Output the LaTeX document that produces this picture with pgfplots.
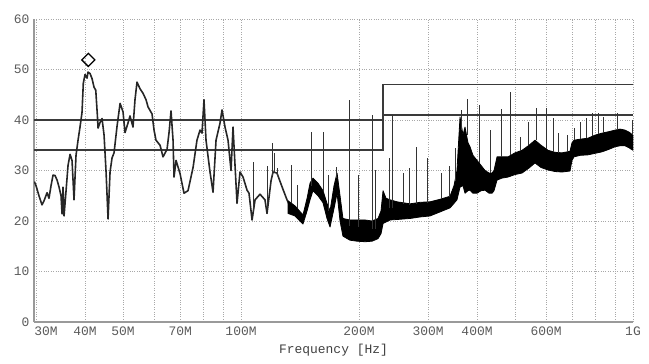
\documentclass[border=0pt]{standalone}
\usepackage{fontspec}
\setmainfont{Liberation Mono}
\usepackage{pgfplots}
\pgfplotsset{compat=1.18}
\definecolor{tickgray}{HTML}{5A5A5A}
\definecolor{axgray}{HTML}{9A9A9A}
\definecolor{gridgray}{HTML}{A8A8A8}
\definecolor{limgray}{HTML}{3A3A3A}
\begin{document}
\begin{tikzpicture}
\useasboundingbox (-34bp,-42bp) rectangle (615bp,322bp);
\begin{axis}[
  at={(0,0)}, anchor=south west,
  scale only axis, width=599bp, height=303bp,
  xmode=log, xmin=29.64, xmax=1000, ymin=0, ymax=60,
  axis x line*=bottom, axis y line*=left,
  axis line style={draw=axgray, line width=1.2pt},
  major tick length=0pt, minor tick length=0pt,
  xtick={30,40,50,60,70,80,90,100,200,300,400,500,600,700,800,900,1000},
  xticklabels={,40M,50M,,70M,,,100M,200M,300M,400M,,600M,,,,1G},
  extra x ticks={30}, extra x tick labels={30M},
  extra x tick style={grid=none, xticklabel style={xshift=10bp}},
  ytick={0,10,20,30,40,50,60},
  /pgf/number format/assume math mode=true,
  tick label style={font=\fontsize{13}{15}\selectfont, text=tickgray},
  yticklabel style={xshift=-1bp},
  xticklabel style={yshift=-1bp},
  grid=major,
  major grid style={draw=gridgray, line width=0.6pt, dash pattern=on 0.8pt off 1.6pt},
  xlabel={Frequency [Hz]},
  xlabel style={font=\fontsize{13}{15}\selectfont, text=black!75, at={(axis description cs:0.5,0)}, anchor=center, yshift=-28bp},
  clip=true,
]
% limit lines
\addplot[limgray, line width=1.7pt] coordinates {(29.64,40) (230.3,40) (230.3,47) (1000,47)};
\addplot[limgray, line width=1.7pt] coordinates {(29.64,34) (230.3,34) (230.3,41) (1000,41)};
% left trace
\addplot[black!85, line width=1.6pt, line join=round] coordinates {
(29.7,27.8)(29.99,27)(30.52,25)(31.07,23.2)(31.44,24)(32.0,25.6)(32.37,24.5)(32.76,27)(33.15,29.1)(33.54,29)(33.94,28.1)(34.34,26.7)(34.74,25)(34.95,21.4)(35.15,26.7)(35.36,21)(35.78,26)(36.2,31)(36.63,33.2)(37.06,32)(37.5,24.2)(37.94,33)(38.39,36)(38.84,38.6)(39.3,41.5)(39.6,47.3)(40.0,49)(40.47,48.3)(40.71,49.5)(41.19,49.2)(41.68,48.2)(42.17,46.5)(42.6,45.9)(43.0,41)(43.18,38.4)(43.69,39.5)(44.2,40.3)(44.73,37)(45.26,29.7)(45.79,20.4)(46.33,29.7)(46.88,32.5)(47.43,33.5)(48.28,38.8)(49.14,43.3)(50.0,41.6)(50.59,37.5)(51.48,39.4)(52.09,40.8)(53.02,38.6)(53.64,44)(54.28,47.5)(55.24,46.2)(56.23,45.3)(57.24,44)(57.91,42.6)(59.29,41.2)(59.99,38)(60.69,36)(62.15,35)(63.25,32.7)(64.75,34.2)(65.52,37.5)(66.29,41.8)(67.08,36)(67.47,28.7)(68.27,32)(69.89,29.4)(71.54,25.5)(73.25,26)(75.45,30.6)(77.21,36)(78.6,38)(79.52,37.4)(80.45,44)(81.41,36)(83.35,29.7)(84.84,25.7)(86.35,36)(88.4,39.4)(89.44,42)(91.03,38.6)(92.65,36)(94.3,30)(95.41,38.6)(96.54,31)(97.68,23.5)(99.41,29.7)(101.2,28.7)(103.6,26.1)(104.8,25.5)(106.7,20.2)(108.6,24.2)(111.8,25.3)(115.1,24.2)(116.5,21.5)(119.3,28)(120.7,29.7)(123.5,29.5)(127.2,26.8)(131.0,24.2)(133.4,22.9)
};
% noise band: upper envelope forward, lower envelope backward
\addplot[fill=black, draw=black, line width=0.8pt, line join=round] coordinates {
(131.8,24)(137.3,23)(143.9,21.2)(147.4,24.5)(150.0,27.5)(152.6,28.5)(157.2,27.5)(161.9,26)(165.7,23.5)(168.7,22)(172.7,27)(175.8,29.5)(178.9,25)(182.0,20.5)(189.7,20.2)(197.7,20.2)(207.2,20.2)(215.9,20)(223.6,20.5)(227.6,22)(230.3,26)(234.4,24.5)(240.0,24.2)(250.0,23.8)(269.9,23.4)(286.2,23.7)(303.5,23.8)(321.9,24.3)(341.4,24.9)(349.4,27)(355.6,30)(362.0,40.6)(368.4,37)(372.8,38.6)(379.4,35.5)(383.9,34.7)(390.7,33)(400.0,32)(409.6,31)(419.3,30)(429.3,29.5)(436.9,29.5)(442.0,30)(449.9,32.7)(463.3,32.7)(479.9,32.7)(500.0,33.5)(521.1,34)(543.0,35)(562.3,36)(582.5,35)(607.1,34)(632.4,33.6)(659.1,33.5)(690.7,33.8)(698.9,35.5)(707.1,36)(732.5,36.2)(767.7,36.4)(800.0,37)(833.6,37.4)(868.6,37.7)(899.8,38)(926.5,38.2)(954.1,38)(976.8,37.6)(1000,37)
(1000,34)(976.8,34.5)(954.1,34.9)(926.5,34.9)(899.8,34.7)(868.6,34.2)(833.6,33.7)(800.0,33.4)(767.7,33.1)(732.5,33)(707.1,32.7)(698.9,32)(690.7,29.9)(659.1,29.7)(632.4,29.8)(607.1,30.1)(582.5,30.6)(562.3,31.5)(543.0,30.5)(521.1,29.5)(500.0,29.2)(479.9,28.7)(463.3,28.5)(449.9,28.1)(442.0,26)(436.9,25.5)(429.3,25.5)(419.3,26.1)(409.6,26)(400.0,25.5)(390.7,25.5)(383.9,26.1)(379.4,26)(372.8,25.5)(368.4,27)(362.0,26.7)(355.6,24.2)(349.4,23.5)(341.4,22.6)(321.9,21.8)(303.5,21)(286.2,20.8)(269.9,20.5)(250.0,20.3)(240.0,20.2)(234.4,19.8)(230.3,19.5)(227.6,17.5)(223.6,16.5)(215.9,16)(207.2,15.9)(197.7,16)(189.7,16.2)(182.0,17)(178.9,20)(175.8,25.5)(172.7,22.5)(168.7,18.8)(165.7,20.5)(161.9,23.6)(157.2,25)(152.6,26)(150.0,24.2)(147.4,22)(143.9,19.4)(137.3,21)(131.8,21.5)
} -- cycle;
% narrow spurious spikes
\addplot[black!80, line width=0.8pt, unbounded coords=jump] coordinates {
(107.3,22)(107.3,31.7)(107.3,nan)
(116.5,22.5)(116.5,30.9)(116.5,nan)
(120.0,29)(120.0,35.4)(120.0,nan)
(121.4,29.5)(121.4,33.5)(121.4,nan)
(123.5,29)(123.5,30.5)(123.5,nan)
(134.1,23.5)(134.1,31.1)(134.1,nan)
(138.9,22.5)(138.9,27.1)(138.9,nan)
(150.9,27)(150.9,37.6)(150.9,nan)
(161.9,26)(161.9,37.6)(161.9,nan)
(166.7,22)(166.7,29.1)(166.7,nan)
(174.7,28.5)(174.7,30.7)(174.7,nan)
(188.6,19)(188.6,44)(188.6,nan)
(198.8,18.8)(198.8,29.1)(198.8,nan)
(215.9,18.5)(215.9,41)(215.9,nan)
(219.7,18.5)(219.7,30.1)(219.7,nan)
(238.6,22.5)(238.6,32.5)(238.6,nan)
(242.8,22.5)(242.8,41)(242.8,nan)
(259.1,23.4)(259.1,29.5)(259.1,nan)
(268.3,23.2)(268.3,30.5)(268.3,nan)
(279.6,23.4)(279.6,34.7)(279.6,nan)
(298.2,23.5)(298.2,32.5)(298.2,nan)
(323.7,24.3)(323.7,29.5)(323.7,nan)
(339.4,24.8)(339.4,30.9)(339.4,nan)
(351.6,28)(351.6,34.4)(351.6,nan)
(364.1,38)(364.1,42)(364.1,nan)
(377.2,37)(377.2,44.2)(377.2,nan)
(404.7,31.5)(404.7,43)(404.7,nan)
(431.8,29.5)(431.8,38)(431.8,nan)
(460.6,32.7)(460.6,42.2)(460.6,nan)
(485.6,33)(485.6,45.5)(485.6,nan)
(515.0,33.8)(515.0,36.6)(515.0,nan)
(539.7,35)(539.7,39.6)(539.7,nan)
(565.6,36)(565.6,42.4)(565.6,nan)
(599.9,34.3)(599.9,42.4)(599.9,nan)
(625.1,33.7)(625.1,40.4)(625.1,nan)
(643.8,33.5)(643.8,37.4)(643.8,nan)
(678.6,33.7)(678.6,37)(678.6,nan)
(707.1,36)(707.1,38.4)(707.1,nan)
(732.5,36.2)(732.5,39.6)(732.5,nan)
(758.9,36.4)(758.9,40.4)(758.9,nan)
(786.1,36.8)(786.1,41.4)(786.1,nan)
(814.2,37.2)(814.2,41.4)(814.2,nan)
(838.5,37.4)(838.5,40.6)(838.5,nan)
(910.3,38)(910.3,41.4)(910.3,nan)
(994.1,37)(994.1,40)
};
% peak marker
\addplot[only marks, mark=square, mark size=4.6bp, mark options={rotate=45, draw=black, fill=white, line width=1.3pt}] coordinates {(40.78,51.9)};
\end{axis}
\end{tikzpicture}
\end{document}
